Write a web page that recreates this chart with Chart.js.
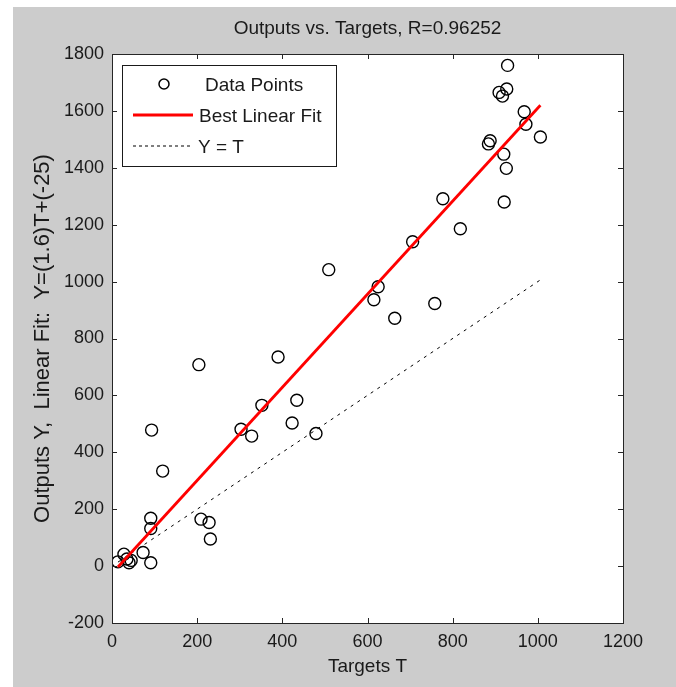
<!DOCTYPE html>
<html>
<head>
<meta charset="utf-8">
<script src="https://cdn.jsdelivr.net/npm/chart.js@4.4.1/dist/chart.umd.min.js"></script>
<style>
  html, body { margin: 0; padding: 0; background: #ffffff; }
  #wrap { position: absolute; left: 13px; top: 7px; width: 663px; height: 680px; background: #cccccc; }
</style>
</head>
<body>
<div id="wrap"><canvas id="chart" width="663" height="680"></canvas></div>
<script>
// datos
const targets = [14, 28, 35, 40, 45, 73, 91, 91, 91, 93, 119, 204, 209, 228, 231, 303, 328, 352, 390, 423, 434, 479,
  509, 615, 625, 664, 706, 758, 777, 818, 884, 888, 909, 917, 921, 920, 926, 927, 929, 968, 972, 1006];
const outputs = [15, 42, 25, 12, 20, 48, 12, 132, 168, 478, 334, 708, 165, 153, 95, 481, 457, 565, 735, 503, 583, 466,
  1042, 936, 982, 871, 1140, 923, 1291, 1186, 1484, 1495, 1665, 1652, 1280, 1448, 1398, 1677, 1760, 1597, 1553, 1508];

const fitT = [14, 1006];
const fitY = [-3, 1620];
const idT = [14, 1006];
const idY = [14, 1006];

const xTicks = [0, 200, 400, 600, 800, 1000, 1200];
const yTicks = [-200, 0, 200, 400, 600, 800, 1000, 1200, 1400, 1600, 1800];

const FONT = "'Liberation Sans', Arial, sans-serif";
const TXT = "#1a1a1a";

const zip = (a, b) => a.map((v, i) => ({ x: v, y: b[i] }));

// marco y marcas hacia dentro, estilo matlab
const framePlugin = {
  id: "frame",
  beforeDraw(chart) {
    const { ctx, chartArea: a } = chart;
    ctx.save();
    ctx.fillStyle = "#ffffff";
    ctx.fillRect(a.left, a.top, a.right - a.left, a.bottom - a.top);
    ctx.restore();
  },
  afterDraw(chart) {
    const { ctx, chartArea: a, scales } = chart;
    ctx.save();
    ctx.strokeStyle = "#262626";
    ctx.lineWidth = 1;
    ctx.beginPath();
    xTicks.forEach(v => {
      const px = Math.round(scales.x.getPixelForValue(v)) + 0.5;
      ctx.moveTo(px, a.bottom); ctx.lineTo(px, a.bottom - 5);
      ctx.moveTo(px, a.top); ctx.lineTo(px, a.top + 5);
    });
    yTicks.forEach(v => {
      const py = Math.round(scales.y.getPixelForValue(v)) + 0.5;
      ctx.moveTo(a.left, py); ctx.lineTo(a.left + 5, py);
      ctx.moveTo(a.right, py); ctx.lineTo(a.right - 5, py);
    });
    ctx.stroke();
    ctx.strokeRect(Math.round(a.left) + 0.5, Math.round(a.top) + 0.5,
      Math.round(a.right - a.left), Math.round(a.bottom - a.top));

    // leyenda
    const lx = a.left + 10, ly = a.top + 11, lw = 214, lh = 101;
    ctx.fillStyle = "#ffffff";
    ctx.fillRect(lx, ly, lw, lh);
    ctx.strokeStyle = "#1a1a1a";
    ctx.strokeRect(lx + 0.5, ly + 0.5, lw, lh);
    ctx.font = "19px " + FONT;
    ctx.fillStyle = TXT;
    ctx.textBaseline = "middle";
    const ds = chart.data.datasets;
    // Data Points
    ctx.beginPath();
    ctx.lineWidth = 1.5;
    ctx.strokeStyle = "#000";
    ctx.arc(lx + 42, ly + 19, 5, 0, Math.PI * 2);
    ctx.stroke();
    ctx.fillText(ds[1].label, lx + 83, ly + 21);
    // Best Linear Fit
    ctx.beginPath();
    ctx.strokeStyle = ds[0].borderColor;
    ctx.lineWidth = 3;
    ctx.moveTo(lx + 11, ly + 50); ctx.lineTo(lx + 71, ly + 50);
    ctx.stroke();
    ctx.fillText(ds[0].label, lx + 77, ly + 52);
    // Y = T
    ctx.beginPath();
    ctx.strokeStyle = "#000";
    ctx.lineWidth = 1;
    ctx.setLineDash([3, 3]);
    ctx.moveTo(lx + 11, ly + 81); ctx.lineTo(lx + 71, ly + 81);
    ctx.stroke();
    ctx.setLineDash([]);
    ctx.fillText(ds[2].label, lx + 76, ly + 83);
    ctx.restore();
  }
};

new Chart(document.getElementById("chart"), {
  type: "scatter",
  data: {
    datasets: [
      {
        type: "line",
        label: "Best Linear Fit",
        data: zip(fitT, fitY),
        borderColor: "#ff0000",
        borderWidth: 2.8,
        pointRadius: 0,
        fill: false,
        order: 0
      },
      {
        label: "Data Points",
        data: zip(targets, outputs),
        pointStyle: "circle",
        pointRadius: 6,
        borderColor: "#000000",
        backgroundColor: "rgba(0,0,0,0)",
        borderWidth: 1.4,
        order: 1
      },
      {
        type: "line",
        label: "Y = T",
        data: zip(idT, idY),
        borderColor: "#000000",
        borderWidth: 1,
        borderDash: [3, 5],
        pointRadius: 0,
        fill: false,
        order: 2
      }
    ]
  },
  options: {
    responsive: false,
    animation: false,
    layout: { padding: { left: 0, right: 53, top: 0, bottom: 0 } },
    plugins: {
      legend: { display: false },
      tooltip: { enabled: false },
      title: {
        display: true,
        fullSize: false,
        text: "Outputs vs. Targets, R=0.96252",
        color: TXT,
        font: { family: FONT, size: 19, weight: "normal" },
        padding: { top: 10.6, bottom: 13.6 }
      }
    },
    scales: {
      x: {
        type: "linear",
        min: 0, max: 1200,
        afterFit: s => { s.height = 64; },
        afterBuildTicks: s => { s.ticks = xTicks.map(v => ({ value: v })); },
        grid: { display: false, drawTicks: false },
        border: { display: false },
        ticks: { color: TXT, padding: 8, maxRotation: 0, font: { family: FONT, size: 18 }, callback: v => String(v) },
        title: {
          display: true, text: "Targets T", color: TXT,
          font: { family: FONT, size: 19 },
          padding: { top: 0, bottom: 8.6 }
        }
      },
      y: {
        type: "linear",
        min: -200, max: 1800,
        afterFit: s => { s.width = 99; },
        afterBuildTicks: s => { s.ticks = yTicks.map(v => ({ value: v })); },
        grid: { display: false, drawTicks: false },
        border: { display: false },
        ticks: { color: TXT, padding: 8, font: { family: FONT, size: 18 }, callback: v => String(v) },
        title: {
          display: true, text: "Outputs Y,  Linear Fit:  Y=(1.6)T+(-25)", color: TXT,
          font: { family: FONT, size: 22 },
          padding: { top: 16.8, bottom: 0 }
        }
      }
    }
  },
  plugins: [framePlugin]
});
</script>
</body>
</html>
